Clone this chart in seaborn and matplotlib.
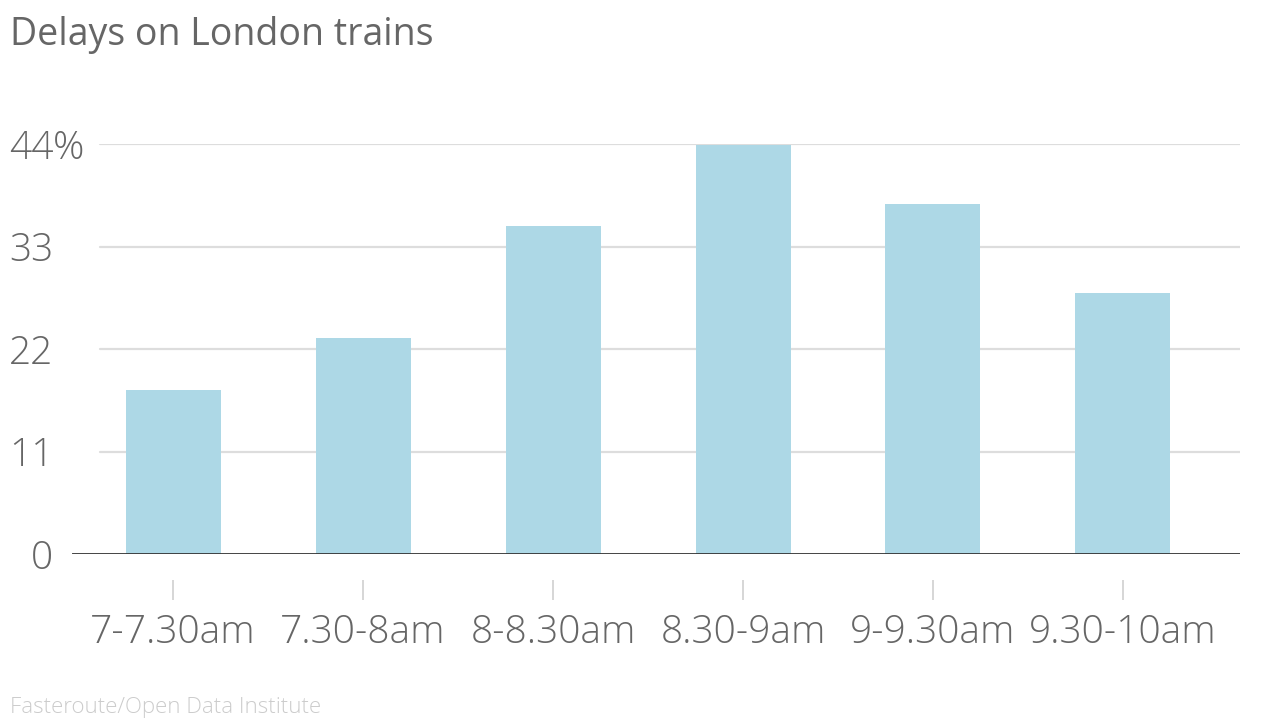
import matplotlib
matplotlib.use("Agg")
import matplotlib.pyplot as plt
import matplotlib.transforms as mtransforms
import seaborn as sns
import pandas as pd

# data
slots = ["7-7.30am", "7.30-8am", "8-8.30am", "8.30-9am", "9-9.30am", "9.30-10am"]
delays = [17.6, 23.2, 35.2, 43.9, 37.6, 28.0]
y_ticks = [0, 11, 22, 33, 44]

df = pd.DataFrame({"slot": slots, "delay": delays})

sns.set_theme(style="white")
plt.rcParams["font.family"] = ["Open Sans", "DejaVu Sans"]

fig = plt.figure(figsize=(12.8, 7.2), dpi=100)
ax = fig.add_axes([72 / 1280, 166 / 720, 1168 / 1280, 410 / 720])

sns.barplot(data=df, x="slot", y="delay", order=slots, color="#add8e6",
            saturation=1, width=0.5, linewidth=0, ax=ax, zorder=3)

ax.set_xlim(-0.532, 5.616)
ax.set_ylim(0, 44)

# gridlines (start a bit right of the axis edge) and dark zero line
for t in y_ticks[1:]:
    ax.axhline(t, xmin=28 / 1168, xmax=1, color="#dddddd", lw=1.6, zorder=1)
ax.axhline(0, color="#333333", lw=2, zorder=4)

for s in ["top", "right", "left"]:
    ax.spines[s].set_visible(False)
ax.spines["bottom"].set_position(("outward", 19))
ax.spines["bottom"].set_visible(False)

ax.set_xlabel("")
ax.set_ylabel("")

ax.set_yticks(y_ticks)
ax.set_yticklabels([str(t) for t in y_ticks])
ax.tick_params(axis="y", length=0, pad=13.5, labelsize=28, labelcolor="#666666")
ax.tick_params(axis="x", bottom=True, direction="out", length=14.5, width=1.2,
               color="#d0d0d0", pad=9, labelsize=28, labelcolor="#666666")
for lab in ax.get_xticklabels() + ax.get_yticklabels():
    lab.set_fontweight("light")

# percent sign after the top tick label
offs = mtransforms.offset_copy(ax.get_yaxis_transform(), fig=fig, x=-19, y=0, units="dots")
ax.text(0, 44, "%", transform=offs, ha="left", va="center_baseline",
        fontsize=28, color="#666666", fontweight="light")

fig.text(10 / 1280, 1 - 35 / 720, "Delays on London trains", fontsize=27,
         color="#666666", ha="left", va="center")
fig.text(10 / 1280, 1 - 708 / 720, "Fasteroute/Open Data Institute", fontsize=16,
         color="#cccccc", ha="left", va="center", fontweight="light")

fig.savefig("out.png", dpi=100, facecolor="white")
